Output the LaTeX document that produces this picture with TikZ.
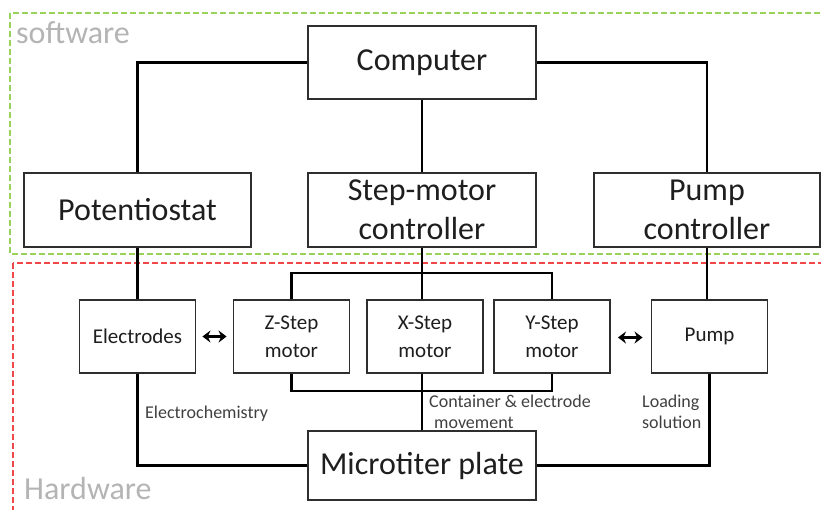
\documentclass[tikz,border=0pt]{standalone}
\usepackage{fontspec}
\setmainfont{Carlito}
\usetikzlibrary{arrows.meta}
\definecolor{swgreen}{HTML}{9BD35A}
\definecolor{hwred}{HTML}{F04848}
\definecolor{boxline}{HTML}{2E2E2E}
\definecolor{txt}{HTML}{1E1E1E}
\definecolor{zonetxt}{HTML}{B4B4B4}
\tikzset{
  bigbox/.style={draw=boxline, line width=1.9pt, fill=white, inner sep=0pt, text=txt,
    align=center, font=\fontsize{32}{39}\selectfont},
  smallbox/.style={draw=boxline, line width=1.9pt, fill=white, inner sep=0pt, text=txt,
    align=center, font=\fontsize{21}{28}\selectfont, minimum width=116pt, minimum height=73pt},
  wire/.style={line width=2.6pt, black},
  note/.style={text=txt!85, font=\fontsize{18}{21}\selectfont, inner sep=0pt, align=left, anchor=west},
  zone/.style={line width=2pt, dash pattern=on 6pt off 3pt},
  zonelabel/.style={text=zonetxt, font=\fontsize{32}{39}\selectfont, inner sep=0pt, anchor=west},
  dbl/.style={line width=2.4pt, {Stealth[length=8pt,width=12pt]}-{Stealth[length=8pt,width=12pt]}}
}
\begin{document}
\begin{tikzpicture}[x=1pt,y=-1pt]
\useasboundingbox (0,0) rectangle (821,509);
% zones
\draw[zone, swgreen] (10,13) rectangle (840,254);
\draw[zone, hwred] (13,263) rectangle (840,530);
\node[zonelabel] (swlabel) at (16,33) {software};
\node[zonelabel] (hwlabel) at (24,488) {Hardware};

% nodes
\node[bigbox, minimum width=228pt, minimum height=73pt] (comp) at (422,62.5) {Computer};
\node[bigbox, minimum width=227pt, minimum height=74pt] (pot) at (137.5,210) {Potentiostat};
\node[bigbox, minimum width=228pt, minimum height=74pt] (smc) at (422,210) {Step-motor\\controller};
\node[bigbox, minimum width=226pt, minimum height=74pt] (pc) at (707,210) {Pump\\controller};

\node[smallbox] (elec) at (137.5,336.5) {Electrodes};
\node[smallbox] (zs) at (291.5,336.5) {Z-Step\\motor};
\node[smallbox] (xs) at (425,336.5) {X-Step\\motor};
\node[smallbox] (ys) at (552,336.5) {Y-Step\\motor};
\node[smallbox] (pump) at (709.5,336.5) {Pump};

\node[bigbox, minimum width=228pt, minimum height=69pt] (mtp) at (422,465.5) {Microtiter plate};

% bus coordinates
\coordinate (busT) at (0,273);
\coordinate (busB) at (0,391);

% software wires
\draw[wire] (comp.west) -| (pot.north);
\draw[wire] (comp.east) -| (pc.north);
\draw[wire] (comp.south) -- (smc.north);

% software to hardware
\draw[wire] (pot.south) -- (elec.north);
\draw[wire] (pc.south) -- (pc.south |- pump.north);
\draw[wire] (smc.south) -- (smc.south |- xs.north);

% motor buses
\draw[wire] (zs.north) -- (zs.north |- busT) -- (ys.north |- busT) -- (ys.north);
\draw[wire] (zs.south) -- (zs.south |- busB) -- (ys.south |- busB) -- (ys.south);
\draw[wire] (mtp.north) -- (mtp.north |- xs.south);

% to microtiter plate
\draw[wire] (elec.south) |- (mtp.west);
\draw[wire] (pump.south) |- (mtp.east);

% double arrows
\draw[dbl] ([xshift=6pt]elec.east) -- ([xshift=-6pt]zs.west);
\draw[dbl] ([xshift=7pt,yshift=-1pt]ys.east) -- ([xshift=-8pt,yshift=-1pt]pump.west);

% notes
\node[note] (n1) at (145,414) {Electrochemistry};
\node[note] (n2) at (429,411.5) {Container \& electrode\\\hspace*{5pt}movement};
\node[note] (n3) at (642,412) {Loading\\solution};
\end{tikzpicture}
\end{document}
